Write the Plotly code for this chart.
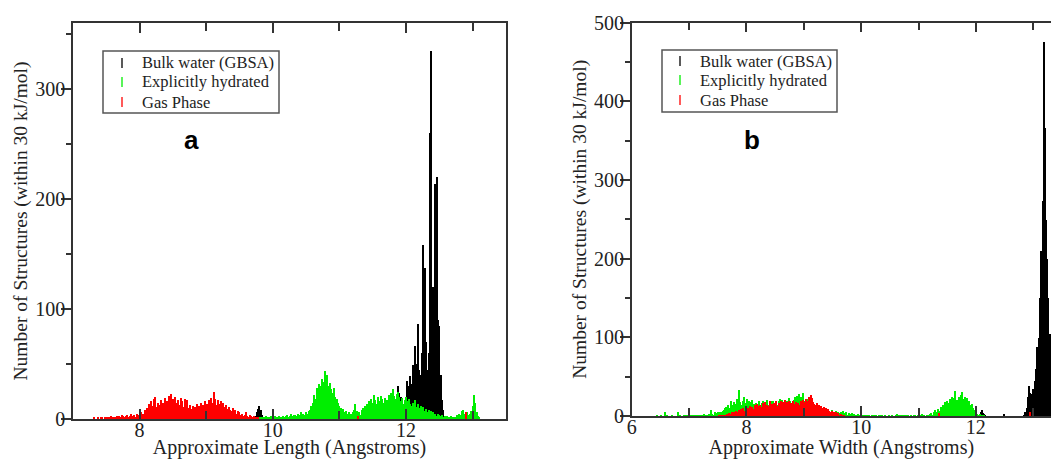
import plotly.graph_objects as go

W, H = 1051, 459
BIN = 0.02  # histogram bin width (Angstroms)

# ---------------- Panel a : Approximate Length ----------------
a_black_1_start = 9.70
a_black_1 = [0, 1, 3, 6, 9, 12, 8, 4, 2, 1]
a_black_2_start = 11.40
a_black_2 = [1, 2, 1, 3, 2, 4, 3, 2, 5, 3,
             4, 3, 6, 5, 4, 7, 5, 8, 6, 9,
             6, 10, 15, 22, 30, 24, 20, 16, 12, 10,
             20, 35, 30, 39, 32, 49, 40, 66, 50, 86,
             45, 40, 60, 158, 137, 70, 45, 60, 260, 335,
             120, 95, 214, 220, 90, 85, 40, 17, 8, 3]

a_green_start = 9.80
a_green = [1, 2, 1, 2, 1, 3, 2, 1, 2, 3,
           2, 1, 3, 2, 2, 3, 1, 2, 3, 2,
           3, 4, 2, 3, 5, 3, 4, 4, 3, 5,
           4, 6, 3, 5, 4, 6, 5, 7, 8, 12,
           15, 22, 18, 28, 25, 32, 30, 36, 34, 44,
           38, 40, 30, 33, 27, 24, 28, 20, 18, 15,
           12, 10, 8, 9, 6, 7, 5, 6, 4, 5,
           6, 8, 14, 7, 5, 6, 4, 8, 10, 12,
           9, 14, 16, 12, 18, 15, 22, 17, 14, 20,
           16, 21, 18, 15, 19, 13, 17, 22, 20, 24,
           27, 21, 18, 23, 25, 20, 16, 19, 14, 17,
           20, 16, 18, 14, 12, 15, 13, 17, 11, 14,
           10, 12, 8, 11, 7, 9, 6, 8, 5, 7,
           6, 4, 5, 3, 5, 4, 3, 4, 2, 3,
           2, 3, 1, 2, 3, 2, 1, 2, 4, 3,
           5, 4, 7, 8, 5, 3, 6, 4, 5, 7,
           12, 22, 15, 6, 3, 1, 0]

a_red_start = 7.30
a_red = [0, 1, 0, 0, 1, 0, 1, 1, 0, 1,
         1, 2, 1, 1, 3, 1, 2, 1, 3, 2,
         3, 2, 4, 3, 2, 3, 4, 2, 3, 5,
         3, 4, 2, 5, 4, 3, 6, 4, 5, 8,
         6, 10, 14, 9, 16, 12, 18, 20, 11, 15,
         13, 17, 10, 15, 19, 12, 16, 21, 14, 23,
         18, 12, 20, 15, 17, 13, 19, 16, 11, 18,
         14, 17, 10, 13, 9, 12, 8, 11, 14, 9,
         12, 15, 10, 13, 16, 11, 14, 17, 12, 19,
         15, 25, 18, 13, 17, 14, 16, 12, 15, 11,
         13, 9, 11, 8, 7, 10, 6, 8, 5, 7,
         6, 4, 5, 3, 4, 6, 3, 2, 4, 3,
         2, 3, 1, 2, 1, 0]
a_red_extra_x = [11.28, 12.90]
a_red_extra = [3, 6]

# ---------------- Panel b : Approximate Width ----------------
b_black_1_start = 12.06
b_black_1 = [2, 5, 8, 4, 3, 1]
b_black_extra_x = [12.48]
b_black_extra = [3]
b_black_2_start = 12.84
b_black_2 = [2, 5, 10, 25, 39, 30, 20, 28, 35, 45,
             60, 88, 60, 100, 150, 210, 274, 476, 367, 250,
             200, 150, 105, 70, 45, 30]

b_green_start = 6.40
b_green = [0, 0, 1, 0, 0, 1, 0, 0, 0, 5,
           0, 1, 0, 0, 0, 1, 0, 0, 0, 0,
           6, 0, 1, 0, 0, 1, 0, 1, 0, 1,
           1, 2, 1, 0, 2, 1, 1, 2, 1, 2,
           2, 1, 2, 3, 1, 2, 2, 3, 2, 8,
           3, 2, 6, 3, 4, 5, 4, 6, 5, 7,
           8, 10, 12, 9, 14, 11, 20, 15, 12, 18,
           14, 16, 22, 33, 18, 12, 15, 20, 24, 17,
           22, 15, 19, 13, 18, 21, 16, 14, 17, 12,
           15, 19, 13, 17, 20, 14, 18, 16, 21, 15,
           17, 14, 19, 20, 16, 13, 18, 15, 19, 22,
           18, 21, 16, 19, 14, 20, 17, 23, 19, 15,
           18, 21, 24, 20, 26, 19, 28, 25, 22, 30,
           20, 18, 16, 22, 14, 19, 15, 12, 17, 13,
           11, 14, 10, 12, 9, 11, 8, 10, 7, 9,
           8, 6, 7, 5, 8, 4, 6, 5, 7, 3,
           5, 4, 6, 3, 7, 4, 3, 5, 2, 4,
           3, 2, 4, 2, 3, 1, 2, 3, 1, 2,
           1, 2, 1, 1, 0, 1, 2, 1, 0, 1,
           1, 0, 1, 1, 0, 1, 0, 1, 1, 0,
           0, 1, 0, 0, 1, 0, 0, 1, 0, 0,
           1, 3, 1, 0, 1, 2, 0, 1, 0, 1,
           0, 1, 0, 1, 0, 0, 1, 2, 0, 1,
           2, 1, 0, 3, 1, 2, 0, 1, 2, 1,
           3, 4, 2, 5, 8, 6, 4, 9, 7, 12,
           10, 14, 12, 18, 15, 20, 17, 22, 16, 25,
           19, 23, 32, 21, 18, 24, 20, 27, 31, 22,
           25, 19, 23, 17, 20, 14, 16, 10, 8, 6,
           4, 3, 2, 3, 1, 2, 1, 1, 0, 0]

b_red_start = 7.50
b_red = [0, 1, 0, 1, 1, 2, 1, 2, 3, 2,
         4, 3, 5, 4, 6, 5, 7, 6, 8, 7,
         9, 8, 10, 7, 12, 9, 11, 8, 13, 10,
         12, 9, 14, 11, 16, 13, 10, 15, 12, 17,
         14, 18, 11, 15, 13, 19, 12, 16, 14, 17,
         15, 20, 13, 17, 16, 19, 14, 18, 21, 16,
         18, 15, 19, 14, 17, 20, 16, 13, 18, 15,
         17, 14, 19, 16, 21, 18, 15, 22, 19, 24,
         20, 27, 23, 18, 16, 14, 17, 13, 15, 12,
         13, 11, 12, 9, 10, 8, 9, 7, 6, 7,
         5, 6, 4, 5, 3, 4, 2, 3, 2, 1,
         1, 0]
b_red_extra_x = [11.36, 12.94]
b_red_extra = [4, 6]

series_names = ["Bulk water (GBSA)", "Explicitly hydrated", "Gas Phase"]
series_colors = ["#000000", "#00ee00", "#ff0000"]

panel_labels = ["a", "b"]
x_titles = ["Approximate Length (Angstroms)", "Approximate Width (Angstroms)"]
y_title = "Number of Structures (within 30 kJ/mol)"


def centers(start, vals):
    return [round(start + i * BIN, 4) for i in range(len(vals))]


fig = go.Figure()


def add_bars(xs, ys, color, name, xa, ya):
    fig.add_trace(go.Bar(x=xs, y=ys, width=BIN, name=name,
                         marker=dict(color=color, line=dict(width=0)),
                         showlegend=False, xaxis=xa, yaxis=ya))


# panel a (draw order: black, green, red on top)
add_bars(centers(a_black_1_start, a_black_1) + centers(a_black_2_start, a_black_2),
         a_black_1 + a_black_2, series_colors[0], series_names[0], "x", "y")
add_bars(centers(a_green_start, a_green), a_green, series_colors[1], series_names[1], "x", "y")
add_bars(centers(a_red_start, a_red) + a_red_extra_x, a_red + a_red_extra,
         series_colors[2], series_names[2], "x", "y")

# panel b
add_bars(centers(b_black_1_start, b_black_1) + b_black_extra_x + centers(b_black_2_start, b_black_2),
         b_black_1 + b_black_extra + b_black_2, series_colors[0], series_names[0], "x2", "y2")
add_bars(centers(b_green_start, b_green), b_green, series_colors[1], series_names[1], "x2", "y2")
add_bars(centers(b_red_start, b_red) + b_red_extra_x, b_red + b_red_extra,
         series_colors[2], series_names[2], "x2", "y2")

AX = "#333333"
SERIF = "Liberation Serif"
tickfont = dict(family=SERIF, size=20, color="#222")
titlefont = dict(family=SERIF, size=20, color="#222")


def xaxis(domain, rng, title, anchor):
    return dict(domain=domain, range=rng, dtick=2, tick0=0, ticks="inside", ticklen=10,
                tickwidth=1.5, tickcolor=AX, showline=True, linecolor=AX, linewidth=1.5,
                mirror="ticks", showgrid=False, zeroline=False, tickfont=tickfont,
                automargin=False, anchor=anchor, ticklabelstandoff=-8,
                minor=dict(dtick=1, tick0=0, ticks="inside", ticklen=8, tickwidth=1.5, tickcolor=AX),
                title=dict(text=title, font=titlefont, standoff=16))


def yaxis(domain, rng, anchor):
    return dict(domain=domain, range=rng, dtick=100, ticks="outside", ticklen=10, tickwidth=1.5,
                tickcolor=AX, showline=True, linecolor=AX, linewidth=1.5, mirror=True,
                showgrid=False, zeroline=False, tickfont=tickfont, anchor=anchor,
                ticklabelstandoff=-8, automargin=False,
                minor=dict(dtick=50, ticks="outside", ticklen=5, tickwidth=1.5, tickcolor=AX),
                title=dict(text=y_title, font=dict(family=SERIF, size=19.5, color="#222"), standoff=2))


def yright(over, rng, anchor):
    return dict(overlaying=over, side="right", anchor=anchor, range=rng, dtick=100,
                ticks="inside", ticklen=10, tickwidth=1.5, tickcolor=AX, showline=False,
                showticklabels=False, showgrid=False, zeroline=False, automargin=False,
                minor=dict(dtick=50, ticks="inside", ticklen=5, tickwidth=1.5, tickcolor=AX))


ax_dom = [73 / W, 506 / W]
ay_dom = [(H - 419) / H, (H - 23) / H]
bx_dom = [631.7 / W, 1.0]
by_dom = [(H - 416) / H, (H - 22.7) / H]

# legend boxes drawn in pixel positions (converted to paper units)
legend_boxes = [dict(box=(103, 51, 279, 113), mark_x=122, text_x=140, rows=(63, 82, 102)),
                dict(box=(662, 50, 837, 112), mark_x=680, text_x=698, rows=(61, 80, 100))]

shapes, annotations = [], []
for lg in legend_boxes:
    x0, y0, x1, y1 = lg["box"]
    shapes.append(dict(type="rect", xref="paper", yref="paper", x0=x0 / W, x1=x1 / W,
                       y0=1 - y0 / H, y1=1 - y1 / H, line=dict(color="#555", width=1.5),
                       fillcolor="white", layer="above"))
    for name, color, ry in zip(series_names, series_colors, lg["rows"]):
        shapes.append(dict(type="line", xref="paper", yref="paper",
                           x0=lg["mark_x"] / W, x1=lg["mark_x"] / W,
                           y0=1 - (ry - 5) / H, y1=1 - (ry + 5) / H,
                           line=dict(color=color, width=1.3), layer="above"))
        annotations.append(dict(text=name, x=lg["text_x"] / W, y=1 - ry / H, xref="paper", yref="paper",
                                xanchor="left", yanchor="middle", showarrow=False,
                                font=dict(family=SERIF, size=16.5, color="#222")))

for lab, px in zip(panel_labels, (191, 752)):
    annotations.append(dict(text="<b>%s</b>" % lab, x=px / W, y=1 - 140 / H, xref="paper", yref="paper",
                            xanchor="center", yanchor="middle", showarrow=False,
                            font=dict(family="Liberation Sans", size=26, color="black")))

fig.update_layout(
    width=W, height=H, margin=dict(l=0, r=0, t=0, b=0, autoexpand=False),
    paper_bgcolor="white", plot_bgcolor="white",
    barmode="overlay", bargap=0, showlegend=False,
    xaxis=xaxis(ax_dom, [7, 13.5], x_titles[0], "y"),
    yaxis=yaxis(ay_dom, [0, 360], "x"),
    yaxis3=yright("y", [0, 360], "x"),
    xaxis2=xaxis(bx_dom, [6, 13.31], x_titles[1], "y2"),
    yaxis2=yaxis(by_dom, [0, 500], "x2"),
    yaxis4=yright("y2", [0, 500], "x2"),
    shapes=shapes,
    annotations=annotations,
)

fig.write_html("out.html", config={"displayModeBar": False},
               post_script="document.body.style.margin='0';document.body.style.overflow='hidden';")
